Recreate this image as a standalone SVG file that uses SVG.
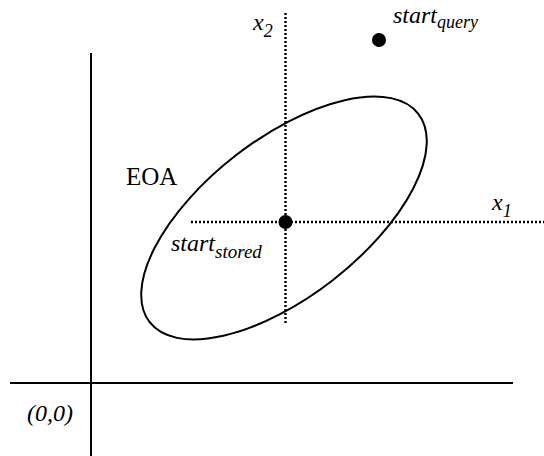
<svg xmlns="http://www.w3.org/2000/svg" width="544" height="456" viewBox="0 0 544 456">
<style>
.axis{stroke:#000;stroke-width:2;fill:none}
.dot{stroke:#000;stroke-width:2.4;stroke-dasharray:2 2;fill:none}
</style>
<rect width="544" height="456" fill="#fff"/>
<g id="connectors">
<line class="axis" x1="91" y1="53" x2="91" y2="456"/>
<line class="axis" x1="10" y1="383" x2="513" y2="383"/>
<line class="dot" x1="285.5" y1="13" x2="285.5" y2="323"/>
<line class="dot" x1="191" y1="222" x2="544" y2="222"/>
</g>
<g id="eoa">
<ellipse cx="284" cy="218" rx="170" ry="79" transform="rotate(-37.8 284 218)" fill="none" stroke="#000" stroke-width="2"/>
<text x="126" y="185" font-size="25" font-family="Liberation Serif">EOA</text>
</g>
<g id="start-stored">
<circle cx="285.5" cy="222" r="7" fill="#000"/>
<text x="171" y="251" font-size="24" font-style="italic" font-family="Liberation Serif">start<tspan font-size="19" dy="7">stored</tspan></text>
</g>
<g id="start-query">
<circle cx="379" cy="40" r="7" fill="#000"/>
<text x="393" y="23" font-size="24" font-style="italic" font-family="Liberation Serif">start<tspan font-size="18" dy="5">query</tspan></text>
</g>
<g id="x2">
<text x="253" y="30" font-size="24" font-style="italic" font-family="Liberation Serif">x<tspan font-size="18" dy="7">2</tspan></text>
</g>
<g id="x1">
<text x="492" y="210" font-size="24" font-style="italic" font-family="Liberation Serif">x<tspan font-size="18" dy="7">1</tspan></text>
</g>
<g id="origin">
<text x="27" y="421" font-size="24" font-style="italic" font-family="Liberation Serif">(0,0)</text>
</g>
</svg>
